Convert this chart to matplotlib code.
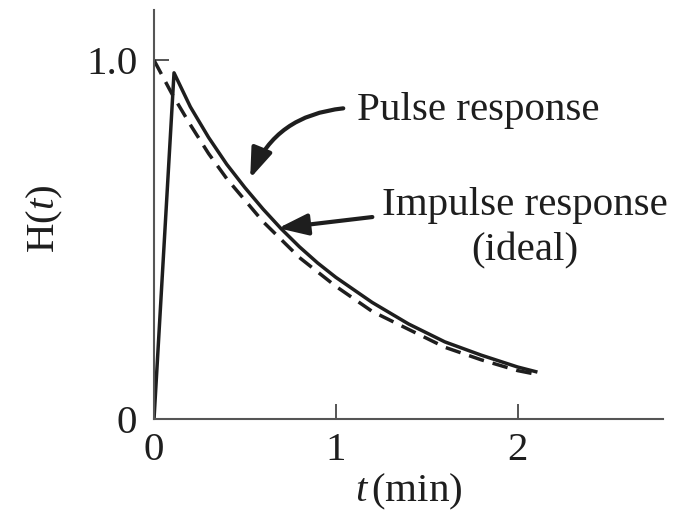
import matplotlib
matplotlib.use("Agg")
import matplotlib.pyplot as plt

# values
t_ideal = [0.0, 0.1, 0.2, 0.3, 0.4, 0.5, 0.6, 0.7, 0.8, 0.9, 1.0, 1.2, 1.4, 1.6, 1.8, 2.0, 2.1]
h_ideal = [1.0, 0.905, 0.82, 0.74, 0.67, 0.61, 0.55, 0.50, 0.45, 0.41, 0.37, 0.30, 0.25, 0.20, 0.165, 0.135, 0.125]

t_pulse = [0.0, 0.11, 0.2, 0.3, 0.4, 0.5, 0.6, 0.7, 0.8, 0.9, 1.0, 1.2, 1.4, 1.6, 1.8, 2.0, 2.1]
h_pulse = [0.0, 0.965, 0.87, 0.785, 0.71, 0.645, 0.585, 0.53, 0.48, 0.435, 0.395, 0.325, 0.265, 0.215, 0.178, 0.145, 0.132]

xticks = [0, 1, 2]
xtick_labels = ["0", "1", "2"]
yticks = [0, 1.0]
ytick_labels = ["0", "1.0"]

plt.rcParams['font.family'] = ['Liberation Serif', 'DejaVu Serif']
plt.rcParams['mathtext.fontset'] = 'custom'
plt.rcParams['mathtext.rm'] = 'Liberation Serif'
plt.rcParams['mathtext.it'] = 'Liberation Serif:italic'
ink = '#1e1e1e'
axcol = '#555555'
fs = 29.5

fig = plt.figure(figsize=(6.91, 5.2), dpi=100)
ax = fig.add_axes([0.2229, 0.1942, 0.7366, 0.7865])

ax.plot(t_ideal, h_ideal, color=ink, lw=2.5, ls=(0, (4.5, 2.6)))
ax.plot(t_pulse, h_pulse, color=ink, lw=2.5)

ax.set_xlim(0, 2.8)
ax.set_ylim(0, 1.14)

for s in ['top', 'right']:
    ax.spines[s].set_visible(False)
for s in ['left', 'bottom']:
    ax.spines[s].set_color(axcol)
    ax.spines[s].set_linewidth(1.5)

ax.set_xticks(xticks)
ax.set_xticklabels(xtick_labels)
ax.set_yticks(yticks)
ax.set_yticklabels(ytick_labels)
ax.tick_params(direction='in', length=11, width=1.4, color=axcol,
               labelsize=fs, labelcolor=ink)
ax.tick_params(axis='x', pad=9)
ax.tick_params(axis='y', pad=12)

ax.set_xlabel('$\\mathit{t}\\,$(min)', fontsize=fs, color=ink)
ax.xaxis.set_label_coords(0.5, -0.13)
ax.set_ylabel('H($\\mathit{t}$)', fontsize=fs, color=ink)
ax.yaxis.set_label_coords(-0.175, 0.49)

# annotations
ax.text(1.118, 0.833, 'Pulse response', fontsize=fs, color=ink, ha='left', va='baseline')
ax.text(2.04, 0.568, 'Impulse response', fontsize=fs, color=ink, ha='center', va='baseline')
ax.text(2.04, 0.443, '(ideal)', fontsize=fs, color=ink, ha='center', va='baseline')

head = '-|>,head_length=1.8,head_width=0.65'
ax.annotate('', xy=(0.529, 0.671), xytext=(1.041, 0.866),
            arrowprops=dict(arrowstyle=head, connectionstyle='arc3,rad=0.3',
                            color=ink, lw=3, shrinkA=0, shrinkB=0))
ax.annotate('', xy=(0.683, 0.532), xytext=(1.201, 0.563),
            arrowprops=dict(arrowstyle=head, color=ink, lw=3,
                            shrinkA=0, shrinkB=0))

fig.savefig('out.png', dpi=100)
